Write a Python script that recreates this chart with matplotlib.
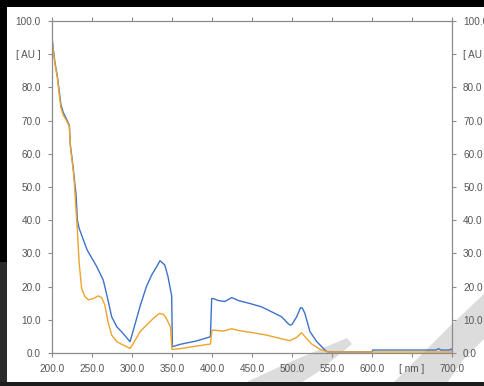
import matplotlib
matplotlib.use("Agg")
import matplotlib.pyplot as plt
from matplotlib.patches import Rectangle, Polygon

# Absorbance spectra (wavelength in nm, absorbance in AU)
blue_nm = [200, 201.6, 203.7, 206.6, 209, 211, 214, 218, 221.7, 223, 224.6, 226.6,
           228.5, 230, 231.7, 234, 237, 244, 250, 256, 264, 269, 274.6, 281, 287,
           292, 297.5, 301.7, 310, 318, 324.6, 330.8, 335, 341, 345, 349.6, 350.5,
           360, 370, 380, 390, 398, 399.6, 401.7, 408, 416, 424.6, 433, 447.5, 462,
           474.6, 487, 495, 497.5, 500, 505.8, 510.8, 513, 516, 522.5, 531, 542.5,
           545, 600, 601, 680, 683, 686, 697, 699, 700]
blue_au = [95.0, 91.5, 87.5, 83.5, 79, 75, 72.5, 70.5, 68.5, 62.5, 59.5, 55.5,
           51, 48, 40, 37.5, 35.5, 31, 28.5, 26, 22, 17, 10.9, 7.9, 6.4,
           5.0, 3.4, 6.9, 14, 20, 23.5, 26, 27.8, 26.5, 23, 17.2, 1.9,
           2.6, 3.1, 3.6, 4.3, 4.9, 16.4, 16.4, 15.8, 15.5, 16.7, 15.8, 14.9, 13.9,
           12.4, 10.9, 8.9, 8.4, 8.6, 10.9, 13.7, 13.5, 12, 6.4, 3.4, 0.6,
           0.3, 0.3, 0.9, 0.9, 1.3, 0.9, 0.9, 1.2, 0.9]

orange_nm = [200, 201.6, 203.7, 206.6, 209, 211, 214, 218, 221.7, 223, 224.6, 226.6,
             228, 229.5, 231.7, 234, 237, 241, 245.4, 251.7, 257.9, 262, 266, 270,
             274.6, 281, 289, 297.5, 301.7, 310, 318, 326.6, 334, 339, 343, 348,
             350, 360, 381, 398, 400, 401.7, 414, 424.6, 435, 451.7, 468, 485,
             497.5, 505.8, 512, 517, 524.6, 535, 542.5, 545, 700]
orange_au = [95.0, 91, 87, 83, 78, 74, 71.7, 70, 68.2, 62, 59, 55,
             51, 45, 37, 27, 19.5, 17, 16, 16.4, 17.2, 16.7, 14.5, 9.4,
             5.4, 3.4, 2.4, 1.4, 2.9, 6.4, 8.4, 10.4, 11.9, 11.7, 10.4, 7.9,
             1.1, 1.3, 2.1, 2.7, 6.9, 6.9, 6.6, 7.3, 6.7, 6.1, 5.4, 4.4,
             3.7, 4.7, 6.1, 4.7, 2.7, 1.1, 0.5, 0.3, 0.3]

x_ticks = [200, 250, 300, 350, 400, 450, 500, 550, 600, 650, 700]
x_labels = ["200.0", "250.0", "300.0", "350.0", "400.0", "450.0", "500.0",
            "550.0", "600.0", "[ nm ]", "700.0"]
y_ticks = [0, 10, 20, 30, 40, 50, 60, 70, 80, 90, 100]
y_labels = ["0.0", "10.0", "20.0", "30.0", "40.0", "50.0", "60.0", "70.0",
            "80.0", "[ AU ]", "100.0"]

W, H = 485, 386
fig = plt.figure(figsize=(W / 100, H / 100), dpi=100)
fig.patch.set_facecolor("white")

# Background layer in pixel units: frame bands and faint decorative arcs
bg = fig.add_axes([0, 0, 1, 1], zorder=0)
bg.set_xlim(0, W)
bg.set_ylim(H, 0)
bg.axis("off")
arc_color = "#dcdcdc"
bg.add_patch(Polygon([(238, 386), (290, 362), (347, 338), (352, 344),
                      (318, 372), (296, 386)], closed=True,
                     facecolor=arc_color, edgecolor="none"))
bg.add_patch(Polygon([(390, 386), (420, 356), (450, 326), (485, 293),
                      (485, 338), (463, 360), (445, 386)], closed=True,
                     facecolor=arc_color, edgecolor="none"))
bg.add_patch(Rectangle((0, 0), W, 6.5, facecolor="black", edgecolor="none"))
bg.add_patch(Rectangle((0, 0), 7, 262, facecolor="black", edgecolor="none"))
bg.add_patch(Rectangle((0, 262), 7.5, H - 262, facecolor="#2b2b2b", edgecolor="none"))
bg.add_patch(Rectangle((0, 381.5), W, 5, facecolor="#1c1c1c", edgecolor="none"))

# Spectrum axes
left, right, top, bottom = 52, 452, 21, 353
ax = fig.add_axes([left / W, 1 - bottom / H, (right - left) / W, (bottom - top) / H],
                  zorder=1)
ax.patch.set_alpha(0)

ax.plot(blue_nm, blue_au, color="#3d72c9", lw=1.0, solid_joinstyle="round")
ax.plot(orange_nm, orange_au, color="#eda42a", lw=1.0, solid_joinstyle="round")

ax.set_xlim(200, 700)
ax.set_ylim(0, 100)

spine_color = "#8c8c8c"
for s in ax.spines.values():
    s.set_color(spine_color)
    s.set_linewidth(0.9)

font = dict(family="Liberation Sans", size=7.2, color="#555555")
ax.set_xticks(x_ticks)
ax.set_xticklabels(x_labels, **font)
ax.set_yticks(y_ticks)
ax.set_yticklabels(y_labels, **font)
ax.tick_params(axis="both", direction="out", length=3, width=0.8,
               color=spine_color, pad=4)
ax.tick_params(axis="x", top=True, bottom=True, pad=5)
ax.tick_params(axis="y", left=True, right=True, labelright=True, pad=5)

fig.savefig("out.png", dpi=100)
